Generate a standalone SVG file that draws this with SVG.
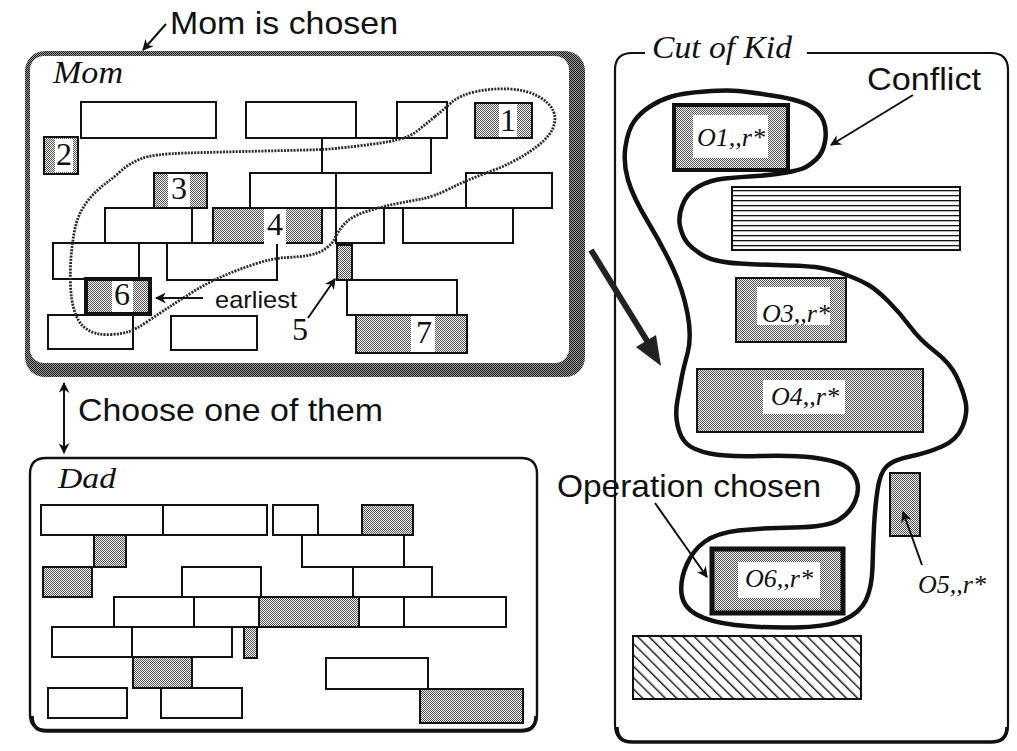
<svg xmlns="http://www.w3.org/2000/svg" width="1017" height="751" viewBox="0 0 1017 751">
<defs>
<pattern id="chk" width="2" height="2" patternUnits="userSpaceOnUse"><rect width="2" height="2" fill="#9a9a9a"/><rect width="1" height="1" fill="#1a1a1a"/><rect x="1" y="1" width="1" height="1" fill="#1a1a1a"/></pattern>
<pattern id="dot" width="2" height="2" patternUnits="userSpaceOnUse"><rect width="2" height="2" fill="#f4f4f4"/><rect width="1" height="1" fill="#555"/><rect x="1" y="1" width="1" height="1" fill="#555"/></pattern>
<pattern id="stripe" width="10" height="5" patternUnits="userSpaceOnUse"><rect width="10" height="5" fill="#fff"/><rect y="0" width="10" height="1.3" fill="#111"/></pattern>
<pattern id="hatch" width="8" height="8" patternUnits="userSpaceOnUse" patternTransform="rotate(-45)"><rect width="8" height="8" fill="#fff"/><rect x="0" y="0" width="1.4" height="8" fill="#111"/></pattern>
<marker id="ah" viewBox="0 0 10 10" refX="9" refY="5" markerWidth="14" markerHeight="11" markerUnits="userSpaceOnUse" orient="auto-start-reverse"><path d="M0,0 L10,5 L0,10 L3,5 z" fill="#111"/></marker>
</defs>
<style>
.r{fill:#fff;stroke:#111;stroke-width:2}
.s{fill:url(#dot);stroke:#111;stroke-width:2}
.w{fill:#fff}
.sans{font-family:"Liberation Sans",Arial,sans-serif;fill:#111}
.ser{font-family:"Liberation Serif","Times New Roman",serif;fill:#111}
.it{font-family:"Liberation Serif","Times New Roman",serif;font-style:italic;fill:#111}
.ln{fill:none;stroke:#111;stroke-width:2}
</style>
<rect width="1017" height="751" fill="#fff"/>

<g id="mom">
<rect x="25" y="51" width="560" height="326" rx="20" fill="url(#chk)"/>
<rect x="30" y="56" width="539" height="307" rx="14" fill="#fff"/>
<text class="it" x="53" y="83" font-size="31" textLength="70" lengthAdjust="spacingAndGlyphs">Mom</text>
<rect class="r" x="81" y="102" width="135" height="36"/>
<rect class="r" x="246" y="102" width="110" height="36"/>
<rect class="r" x="397" y="102" width="50" height="36"/>
<rect class="s" x="475" y="103" width="57" height="35"/>
<rect class="w" x="499" y="104" width="18" height="33"/>
<text class="ser" x="508" y="131" font-size="32" text-anchor="middle">1</text>
<rect class="s" x="44" y="137" width="34" height="37"/>
<rect class="w" x="55" y="139" width="18" height="33"/>
<text class="ser" x="64" y="165" font-size="32" text-anchor="middle">2</text>
<rect class="r" x="322" y="138" width="109" height="35"/>
<rect class="r" x="250" y="173" width="86" height="35"/>
<path class="ln" d="M431,173 H336 V208 H466"/>
<rect class="r" x="466" y="173" width="86" height="35"/>
<rect class="s" x="154" y="173" width="53" height="35"/>
<rect class="w" x="168" y="174" width="22" height="33"/>
<text class="ser" x="179" y="199" font-size="32" text-anchor="middle">3</text>
<rect class="r" x="105" y="208" width="87" height="35"/>
<rect class="s" x="213" y="208" width="109" height="35"/>
<rect class="w" x="264" y="209" width="22" height="33"/>
<text class="ser" x="275" y="235" font-size="32" text-anchor="middle">4</text>
<rect class="r" x="336" y="208" width="48" height="35"/>
<rect class="r" x="403" y="208" width="110" height="35"/>
<rect class="r" x="53" y="243" width="86" height="36"/>
<rect class="r" x="167" y="243" width="110" height="37"/>
<rect class="w" x="264" y="240" width="22" height="4"/>
<rect class="s" x="337" y="245" width="15" height="35"/>
<rect class="r" x="347" y="280" width="110" height="35"/>
<rect x="86" y="279" width="64" height="35" fill="url(#dot)" stroke="#111" stroke-width="4"/>
<rect class="w" x="112" y="281" width="21" height="31"/>
<text class="ser" x="122" y="305" font-size="32" text-anchor="middle">6</text>
<rect class="r" x="48" y="315" width="85" height="34"/>
<rect class="r" x="171" y="316" width="86" height="34"/>
<rect class="s" x="356" y="315" width="111" height="38"/>
<rect class="w" x="411" y="316" width="24" height="36"/>
<text class="ser" x="424" y="343" font-size="32" text-anchor="middle">7</text>
<path d="M435,116.5 Q443,110 451.5,102.5 Q460,95 476.5,91.5 Q493,88 510,89 Q527,90 538.5,96.5 Q550,103 553.5,111.5 Q557,120 552,130 Q547,140 530,151.5 Q513,163 490,171.5 Q467,180 450,188.5 Q433,197 421.5,199 Q410,201 395,204 Q380,207 365,212 Q350,217 343.5,225 Q337,233 335,238 Q333,243 326.5,248 Q320,253 310,255 Q300,257 286.5,257.5 Q273,258 255,264 Q237,270 222,276.5 Q207,283 193.5,291.5 Q180,300 170,306.5 Q160,313 147.5,321.5 Q135,330 127.5,332 Q120,334 111.5,334.5 Q103,335 96.5,333.5 Q90,332 84,327 Q78,322 74.5,311 Q71,300 70.5,285 Q70,270 71,257.5 Q72,245 74,233.5 Q76,222 80,213.5 Q84,205 90.5,197.5 Q97,190 105,184 Q113,178 121.5,170.5 Q130,163 141.5,158.5 Q153,154 186.5,153 Q220,152 265,151 Q310,150 321.5,149.5 Q333,149 358,146 Q383,143 396.5,140 Q410,137 418.5,130 Q427,123 435,116.5 Z" fill="none" stroke="#2a2a2a" stroke-width="2.8" stroke-dasharray="2 1.2" stroke-linejoin="round"/>
<text class="sans" x="215" y="308" font-size="24" textLength="82" lengthAdjust="spacingAndGlyphs">earliest</text>
<text class="ser" x="300" y="340" font-size="32" text-anchor="middle">5</text>
</g>

<g id="dad">
<path d="M46,458 H521 Q537,458 537,474 V714 Q537,730 521,730 H46 Q30,730 30,714 V474 Q30,458 46,458 Z" fill="#fff" stroke="#111" stroke-width="2.4"/>
<path d="M32,716 Q32,731 47,731 H521 Q536,731 536,716" fill="none" stroke="#111" stroke-width="3.5"/>
<text class="it" x="58" y="488" font-size="30" textLength="58" lengthAdjust="spacingAndGlyphs">Dad</text>
<rect class="r" x="41" y="505" width="122" height="30"/>
<rect class="r" x="163" y="505" width="104" height="30"/>
<rect class="r" x="273" y="505" width="45" height="30"/>
<rect class="s" x="362" y="505" width="51" height="30"/>
<rect class="s" x="94" y="535" width="32" height="32"/>
<rect class="r" x="302" y="535" width="102" height="32"/>
<rect class="s" x="43" y="567" width="49" height="30"/>
<rect class="r" x="182" y="567" width="79" height="30"/>
<rect class="r" x="353" y="567" width="79" height="30"/>
<rect class="r" x="114" y="597" width="80" height="30"/>
<rect class="r" x="194" y="597" width="65" height="30"/>
<rect class="s" x="259" y="597" width="100" height="30"/>
<rect class="r" x="359" y="597" width="45" height="30"/>
<rect class="r" x="404" y="597" width="102" height="30"/>
<rect class="r" x="52" y="627" width="80" height="30"/>
<rect class="r" x="132" y="627" width="100" height="30"/>
<rect class="s" x="244" y="627" width="13" height="31"/>
<rect class="s" x="133" y="657" width="59" height="31"/>
<rect class="r" x="326" y="658" width="102" height="31"/>
<rect class="r" x="48" y="688" width="79" height="30"/>
<rect class="r" x="161" y="688" width="81" height="30"/>
<rect class="s" x="420" y="689" width="103" height="34"/>
</g>

<g id="kid">
<path d="M645,53 H632 Q615,53 615,70 V725 Q615,742 632,742 H991 Q1008,742 1008,725 V70 Q1008,53 991,53 H807" fill="none" stroke="#111" stroke-width="2.2"/>
<path d="M617,727 Q617,742 632,742 H991 Q1007,742 1007,727" fill="none" stroke="#111" stroke-width="3.5"/>
<text class="it" x="652" y="58" font-size="32" textLength="140" lengthAdjust="spacingAndGlyphs">Cut of Kid</text>
<rect x="674" y="105" width="114" height="65" fill="url(#dot)" stroke="#111" stroke-width="4"/>
<rect class="w" x="693" y="115" width="75" height="43"/>
<text class="it" x="731" y="146" font-size="26" text-anchor="middle">O1,,r*</text>
<rect x="732" y="187" width="228" height="63" fill="url(#stripe)" stroke="#111" stroke-width="2"/>
<rect class="s" x="736" y="278" width="110" height="64"/>
<rect class="w" x="757" y="287" width="73" height="38"/>
<text class="it" x="796" y="322" font-size="26" text-anchor="middle">O3,,r*</text>
<rect class="s" x="697" y="369" width="226" height="63"/>
<rect class="w" x="763" y="380" width="82" height="34"/>
<text class="it" x="805" y="405" font-size="26" text-anchor="middle">O4,,r*</text>
<rect class="s" x="890" y="473" width="30" height="63"/>
<text class="it" x="952" y="593" font-size="26" text-anchor="middle">O5,,r*</text>
<rect x="712" y="549" width="131" height="64" fill="url(#dot)" stroke="#111" stroke-width="5"/>
<rect class="w" x="738" y="562" width="82" height="36"/>
<text class="it" x="779" y="587" font-size="26" text-anchor="middle">O6,,r*</text>
<rect x="633" y="636" width="228" height="63" fill="url(#hatch)" stroke="#111" stroke-width="2"/>
<path d="M671.5,96.5 Q683,93 705,91.5 Q727,90 738.5,91 Q750,92 775,96 Q800,100 810,106 Q820,112 823.5,121 Q827,130 825,141.5 Q823,153 816.5,159 Q810,165 805,167.5 Q800,170 786.5,172.5 Q773,175 756.5,176 Q740,177 725,178.5 Q710,180 698.5,186.5 Q687,193 682.5,205 Q678,217 680,226 Q682,235 686,241 Q690,247 701.5,254.5 Q713,262 740,263.5 Q767,265 788.5,265.5 Q810,266 821.5,268 Q833,270 846.5,275 Q860,280 868.5,285 Q877,290 888.5,301.5 Q900,313 910,326.5 Q920,340 935,351.5 Q950,363 956.5,376.5 Q963,390 965.5,401.5 Q968,413 962.5,426.5 Q957,440 942,446.5 Q927,453 910,456.5 Q893,460 886.5,466.5 Q880,473 877.5,490 Q875,507 874,527 Q873,547 872.5,567 Q872,587 866,600 Q860,613 843.5,620 Q827,627 793.5,627.5 Q760,628 735,625 Q710,622 696.5,614.5 Q683,607 681.5,593.5 Q680,580 686.5,565 Q693,550 705,541.5 Q717,533 738.5,530.5 Q760,528 793.5,527.5 Q827,527 838.5,520 Q850,513 855,501.5 Q860,490 856.5,480 Q853,470 843,465 Q833,460 813,457.5 Q793,455 760,456 Q727,457 710,453.5 Q693,450 686.5,443.5 Q680,437 677.5,425 Q675,413 677.5,400 Q680,387 681.5,378.5 Q683,370 687.5,353.5 Q692,337 687.5,313.5 Q683,290 673,268.5 Q663,247 648,222 Q633,197 628,180 Q623,163 625.5,146.5 Q628,130 634,121.5 Q640,113 650,106.5 Q660,100 671.5,96.5 Z" fill="none" stroke="#111" stroke-width="4.5" stroke-linejoin="round"/>
</g>

<g id="labels">
<text class="sans" x="170" y="34" font-size="32" textLength="228" lengthAdjust="spacingAndGlyphs">Mom is chosen</text>
<text class="sans" x="78" y="421" font-size="32" textLength="305" lengthAdjust="spacingAndGlyphs">Choose one of them</text>
<text class="sans" x="867" y="90" font-size="32" textLength="114" lengthAdjust="spacingAndGlyphs">Conflict</text>
<text class="sans" x="557" y="497" font-size="32" textLength="264" lengthAdjust="spacingAndGlyphs">Operation chosen</text>
</g>

<g id="connectors">
<line class="ln" x1="166" y1="24" x2="143" y2="50" marker-end="url(#ah)"/>
<line class="ln" x1="64" y1="383" x2="64" y2="453" marker-start="url(#ah)" marker-end="url(#ah)"/>
<line class="ln" x1="203" y1="298" x2="156" y2="298" marker-end="url(#ah)"/>
<line class="ln" x1="308" y1="318" x2="335" y2="279" marker-end="url(#ah)"/>
<line x1="591" y1="250" x2="649" y2="344" stroke="#222" stroke-width="6"/>
<polygon points="661,366 656,335 636,347" fill="#222"/>
<line class="ln" x1="913" y1="95" x2="831" y2="145" marker-end="url(#ah)"/>
<line class="ln" x1="655" y1="503" x2="707" y2="577" marker-end="url(#ah)"/>
<line class="ln" x1="922" y1="565" x2="903" y2="512" marker-end="url(#ah)"/>
</g>
</svg>
